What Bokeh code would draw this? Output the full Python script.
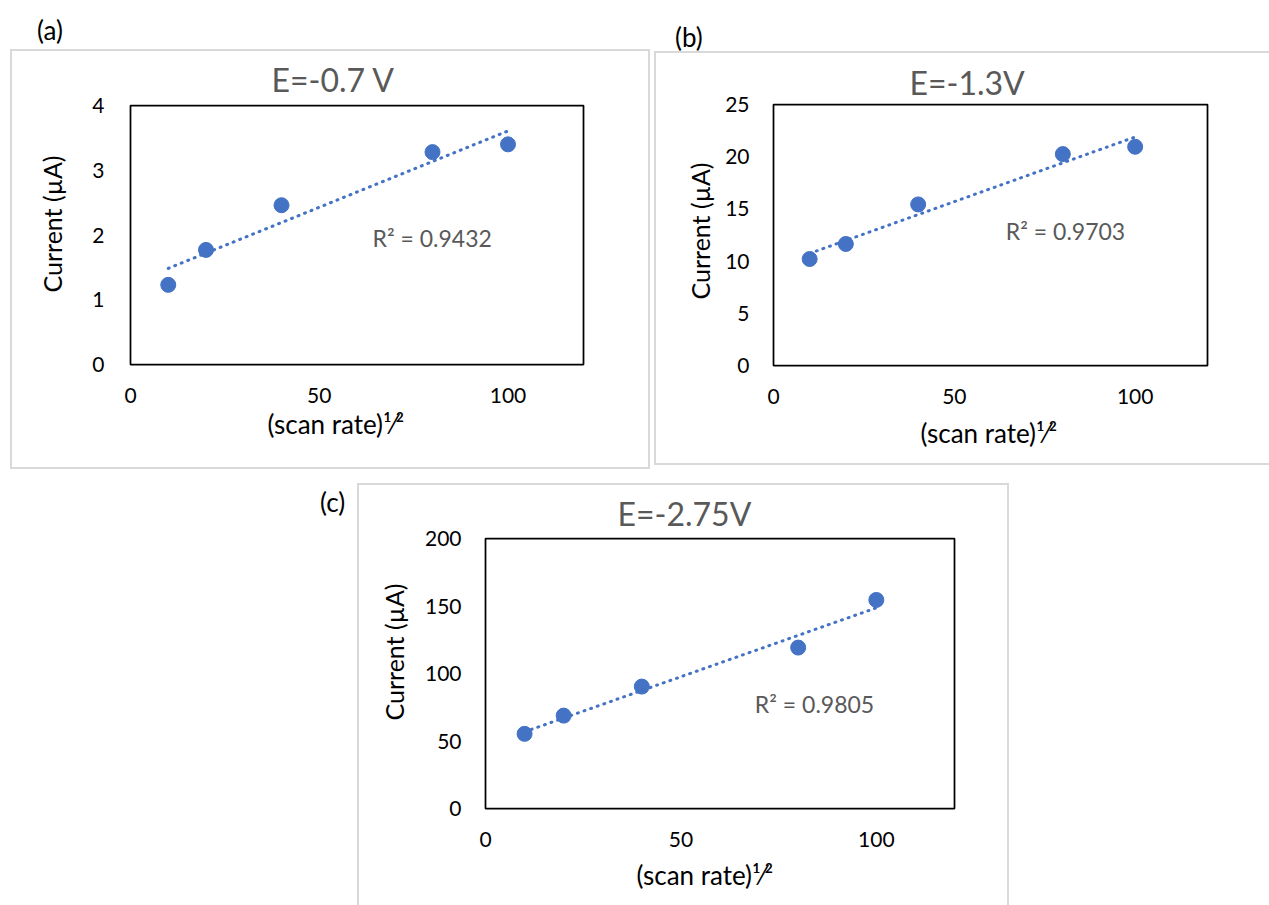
import numpy as np
from bokeh.plotting import figure
from bokeh.models import Range1d, FixedTicker, Label, Spacer, Title, Div
from bokeh.layouts import column, row
from bokeh.embed import file_html
from bokeh.resources import INLINE

# ---------------- data ----------------
scan_rate_sqrt = [10, 20, 40, 80, 100]
current_a = [1.23, 1.77, 2.46, 3.28, 3.40]
current_b = [10.2, 11.64, 15.43, 20.25, 20.95]
current_c = [55.3, 68.8, 90.3, 119.2, 154.5]

titles = ["E=-0.7 V", "E=-1.3V", "E=-2.75V"]
r2_texts = ["R\u00b2 = 0.9432", "R\u00b2 = 0.9703", "R\u00b2 = 0.9805"]
panel_tags = ["(a)", "(b)", "(c)"]
x_ticks = [0, 50, 100]
x_max = 120
y_ticks_a = [0, 1, 2, 3, 4]
y_ticks_b = [0, 5, 10, 15, 20, 25]
y_ticks_c = [0, 50, 100, 150, 200]
y_axis_title = "Current (\u00b5A)"
x_axis_title = "(scan rate)\u00b9\u2044\u00b2"

BLUE = "#4472C4"
GRAY = "#595959"
LINEGRAY = "#d9d9d9"
FONT = "Lato"


def add_title(p, text, side, size, color, offset, standoff):
    p.add_layout(Title(text=text, align="left", offset=offset, standoff=standoff,
                       text_font=FONT, text_font_size=size, text_color=color,
                       text_font_style="normal"), side)


def make_panel(xs, ys, yticks, title, r2, canvas, frame, r2pos, tpos, ypos, xpos,
               ystandoff=24):
    cx, cy, cw, ch = canvas          # page position / size of canvas
    fl, ft, fw, fh = frame           # page position / size of plot area
    ymax = yticks[-1]
    p = figure(width=cw, height=ch, title=None,
               x_range=Range1d(0, x_max), y_range=Range1d(0, ymax),
               output_backend="svg", toolbar_location=None,
               min_border_left=fl - cx, min_border_top=ft - cy,
               min_border_right=cx + cw - (fl + fw),
               min_border_bottom=cy + ch - (ft + fh))
    p.xgrid.visible = False
    p.ygrid.visible = False
    p.outline_line_color = "black"
    p.outline_line_width = 1.75
    p.background_fill_color = "white"
    p.border_fill_color = "white"

    for ax, ticks, standoff in ((p.xaxis[0], x_ticks, 23), (p.yaxis[0], yticks, ystandoff)):
        ax.ticker = FixedTicker(ticks=ticks)
        ax.major_tick_in = 0
        ax.major_tick_out = 0
        ax.minor_tick_in = 0
        ax.minor_tick_out = 0
        ax.axis_line_color = None
        ax.major_label_text_font = FONT
        ax.major_label_text_font_size = "21px"
        ax.major_label_text_color = "black"
        ax.major_label_standoff = standoff

    p.scatter(xs, ys, size=15, fill_color=BLUE, line_color=BLUE)
    coef = np.polyfit(xs, ys, 1)
    xl = np.array([min(xs), max(xs)], dtype=float)
    p.line(xl, np.polyval(coef, xl), line_color=BLUE, line_width=3,
           line_dash="1 6", line_cap="round")

    # R^2 annotation (inside the plot area)
    px, py = r2pos
    p.add_layout(Label(x=(px - fl) / fw * x_max, y=(ft + fh - py) / fh * ymax,
                       text=r2, text_font=FONT, text_font_size="23px",
                       text_color=GRAY, text_align="center", text_baseline="middle"))

    add_title(p, title, "above", "32px", GRAY, *tpos)
    add_title(p, y_axis_title, "left", "25px", "black", *ypos)
    add_title(p, x_axis_title, "below", "26px", "black", *xpos)
    return p


def gl(w, h):
    return Spacer(width=w, height=h, styles={"background-color": LINEGRAY})


def tag_div(w, h, tag, left, top):
    inner = (f'<div style="position:relative; left:{left}px; top:{top}px; '
             f'font-family:{FONT}; font-size:26px; line-height:26px; '
             f'color:black; white-space:nowrap;">{tag}</div>')
    return Div(text=inner, width=w, height=h, margin=(0, 0, 0, 0))


fig_a = make_panel(scan_rate_sqrt, current_a, y_ticks_a, titles[0], r2_texts[0],
                   canvas=(12, 51, 636, 416), frame=(128, 104, 455, 260),
                   r2pos=(431, 237), tpos=(141, 13), ypos=(72, 45), xpos=(137, 0),
                   ystandoff=26)
fig_b = make_panel(scan_rate_sqrt, current_b, y_ticks_b, titles[1], r2_texts[1],
                   canvas=(656, 53, 613, 410), frame=(773, 104, 434, 261),
                   r2pos=(1065, 230), tpos=(136, 5), ypos=(66, 16), xpos=(147, 17))
fig_c = make_panel(scan_rate_sqrt, current_c, y_ticks_c, titles[2], r2_texts[2],
                   canvas=(359, 485, 648, 420), frame=(485, 537, 469, 271),
                   r2pos=(814, 703), tpos=(132, 12), ypos=(88, 26), xpos=(151, 15))

block_a = column(gl(640, 2), row(gl(2, 416), fig_a, gl(2, 416)), gl(640, 2))
block_b = column(gl(615, 2), row(gl(2, 410), fig_b), gl(615, 2))
block_c = column(gl(652, 2), row(gl(2, 420), fig_c, gl(2, 420)))

tag_a = tag_div(640, 49, panel_tags[0], 27, 17)
tag_b = tag_div(615, 51, panel_tags[1], 21, 24)
tag_c = tag_div(57, 60, panel_tags[2], 20, 6)

root = column(
    row(Spacer(width=10, height=469), column(tag_a, block_a),
        Spacer(width=4, height=469), column(tag_b, block_b)),
    Spacer(width=1269, height=14),
    row(Spacer(width=300, height=422), tag_c, block_c),
)

open("out.html", "w").write(file_html(root, INLINE))
